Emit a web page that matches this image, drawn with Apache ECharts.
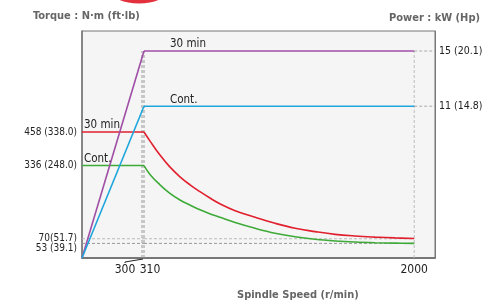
<!DOCTYPE html>
<html><head><meta charset="utf-8">
<script src="https://cdn.jsdelivr.net/npm/echarts@6/dist/echarts.min.js"></script>
<style>html,body{margin:0;padding:0;background:#fff}#c{width:491px;height:304px}</style>
</head><body><div id="c"></div>
<script>
// ---- data ----
const torqueTicks = [458, 336, 70];
const torqueTickLabels = ['458 (338.0)', '336 (248.0)', '70(51.7)'];
const torqueLowTicks = [53];
const torqueLowTickLabels = ['53 (39.1)'];
const powerTicks = [15, 11];
const powerTickLabels = ['15 (20.1)', '11 (14.8)'];
const lowSpeedTicks = [300, 310];
const highSpeedTicks = [2000];
const baseSpeed = 310;
const kneeSpeed = 300;
const maxSpeed = 2000;
const power30 = 15, powerCont = 11;
const torque30 = 458, torqueCont = 336;
const torqueMark30 = 70, torqueMarkCont = 53;
const curveSpeeds = [310, 350, 410, 470, 535, 600, 660, 725, 785, 880, 1005, 1130, 1255, 1380, 1505, 1630, 1755, 1880, 2000];
const torque30Curve = [458, 423, 374, 332, 295, 265, 241, 217, 197, 172, 148, 126, 108, 96, 86, 80, 76, 73, 71];
const torqueContCurve = [336, 302, 266, 236, 211, 192, 175, 160, 148, 129, 108, 90, 77, 68, 62, 58, 55.5, 54, 53];

// ---- chart ----
const FONT = "'Liberation Sans Narrow','DejaVu Sans Condensed',Roboto,sans-serif";
const TMAX = 825, PMAX = 16.45, XBMAX = 2130;
const C_PURPLE = '#a04ea6', C_BLUE = '#1ea6dc', C_RED = '#e1202e', C_GREEN = '#3eaa38';
const chart = echarts.init(document.getElementById('c'), null, {renderer: 'canvas'});

const dash = (color) => ({color: color || '#a8a8a8', width: 1, type: [3, 2]});
const lineS = (x, y, data, color, extra) => Object.assign({
  type: 'line', xAxisIndex: x, yAxisIndex: y, data: data, symbol: 'none',
  lineStyle: {color: color, width: 1.6}, silent: true, animation: false, z: 3
}, extra || {});

const grids = [
  {left: 82, right: 56, top: 31, bottom: 46, show: true, backgroundColor: '#f5f5f5', borderColor: '#777', borderWidth: 1, z: 0},
  {left: 82, width: 62, top: 31, bottom: 46},
  {left: 144, right: 56, top: 31, bottom: 46}
];
const hiddenY = (g, max) => ({type: 'value', gridIndex: g, min: 0, max: max, show: false});
const TT = {fontFamily: FONT, fontSize: 11, fontWeight: 'bold', color: '#666'};
const YL = {margin: 5, color: '#222', fontSize: 10, fontFamily: FONT, hideOverlap: false};

const option = {
  animation: false,
  textStyle: {fontFamily: FONT},
  grid: grids,
  title: [
    {text: 'Torque : N·m (ft·lb)', left: 33, top: 11, padding: 0, textStyle: TT},
    {text: 'Power : kW (Hp)', right: 11, top: 13, padding: 0, textStyle: TT},
    {text: 'Spindle Speed (r/min)', left: 237, top: 290, padding: 0, textStyle: TT}
  ],
  xAxis: [
    {type: 'value', gridIndex: 0, min: 0, max: 1, axisLine: {show: true, lineStyle: {color: '#777', width: 2}}, axisTick: {show: false}, axisLabel: {show: false}, splitLine: {show: false}},
    {type: 'value', gridIndex: 1, min: 0, max: baseSpeed, axisLine: {show: false}, axisTick: {show: false}, splitLine: {show: false},
      axisLabel: {customValues: lowSpeedTicks, margin: 6, color: '#222', fontSize: 12, fontFamily: FONT, hideOverlap: false,
        formatter: v => v === kneeSpeed ? '{a|' + v + '}' : '{b|' + v + '}',
        rich: {a: {padding: [0, 34, 0, 0], fontSize: 12, fontFamily: FONT, color: '#222'}, b: {padding: [0, 0, 0, 12], fontSize: 12, fontFamily: FONT, color: '#222'}}}},
    {type: 'value', gridIndex: 2, min: baseSpeed, max: XBMAX, axisLine: {show: false}, axisTick: {show: false}, splitLine: {show: false},
      axisLabel: {customValues: highSpeedTicks, margin: 6, color: '#222', fontSize: 12, fontFamily: FONT, formatter: v => String(v)}}
  ],
  yAxis: [
    {type: 'value', gridIndex: 0, position: 'left', min: 0, max: TMAX, splitLine: {show: false},
      axisLine: {show: true, lineStyle: {color: '#777', width: 1.5}}, axisTick: {show: false},
      axisLabel: Object.assign({customValues: torqueTicks, formatter: v => torqueTickLabels[torqueTicks.indexOf(v)]}, YL)},
    {type: 'value', gridIndex: 0, position: 'right', min: 0, max: PMAX, splitLine: {show: false},
      axisLine: {show: true, lineStyle: {color: '#777', width: 1}}, axisTick: {show: false},
      axisLabel: {customValues: powerTicks, margin: 4, color: '#222', fontSize: 10.5, fontFamily: FONT,
        formatter: v => powerTickLabels[powerTicks.indexOf(v)]}},
    {type: 'value', gridIndex: 1, position: 'left', min: 0, max: TMAX, splitLine: {show: false},
      axisLine: {show: false}, axisTick: {show: false},
      axisLabel: Object.assign({customValues: torqueLowTicks, verticalAlign: 'top', formatter: v => torqueLowTickLabels[torqueLowTicks.indexOf(v)]}, YL)},
    hiddenY(1, PMAX), hiddenY(2, TMAX), hiddenY(2, PMAX)
  ],
  series: [
    lineS(1, 3, [[kneeSpeed, 0], [kneeSpeed, power30]], null, {lineStyle: dash('#999'), z: 2}),
    lineS(1, 3, [[baseSpeed, 0], [baseSpeed, power30]], null, {lineStyle: dash('#999'), z: 2}),
    lineS(1, 2, [[0, torqueMark30], [baseSpeed, torqueMark30]], null, {lineStyle: dash('#bbb'), z: 2}),
    lineS(1, 2, [[0, torqueMarkCont], [baseSpeed, torqueMarkCont]], null, {lineStyle: dash('#999'), z: 2}),
    lineS(2, 4, [[baseSpeed, torqueMark30], [maxSpeed, torqueMark30]], null, {lineStyle: dash('#bbb'), z: 2}),
    lineS(2, 4, [[baseSpeed, torqueMarkCont], [maxSpeed, torqueMarkCont]], null, {lineStyle: dash('#999'), z: 2}),
    lineS(2, 5, [[maxSpeed, 0], [maxSpeed, power30]], null, {lineStyle: dash('#bbb'), z: 2}),
    lineS(2, 5, [[maxSpeed, power30], [XBMAX, power30]], null, {lineStyle: dash('#aaa'), z: 2}),
    lineS(2, 5, [[maxSpeed, powerCont], [XBMAX, powerCont]], null, {lineStyle: dash('#aaa'), z: 2}),
    lineS(1, 2, [[0, torque30], [baseSpeed, torque30]], C_RED),
    lineS(1, 2, [[0, torqueCont], [baseSpeed, torqueCont]], C_GREEN),
    lineS(2, 4, curveSpeeds.map((s, i) => [s, torque30Curve[i]]), C_RED, {smooth: 0.4}),
    lineS(2, 4, curveSpeeds.map((s, i) => [s, torqueContCurve[i]]), C_GREEN, {smooth: 0.4}),
    lineS(1, 3, [[0, 0], [baseSpeed, power30]], C_PURPLE),
    lineS(1, 3, [[0, 0], [baseSpeed, powerCont]], C_BLUE),
    lineS(2, 5, [[baseSpeed, power30], [maxSpeed, power30]], C_PURPLE),
    lineS(2, 5, [[baseSpeed, powerCont], [maxSpeed, powerCont]], C_BLUE)
  ]
};
chart.setOption(option);

const p = (xi, yi, pt) => chart.convertToPixel({xAxisIndex: xi, yAxisIndex: yi}, pt);
const txt = (pos, s) => ({type: 'text', x: pos[0], y: pos[1], style: {text: s, fill: '#222', font: '11.5px ' + FONT, textVerticalAlign: 'bottom'}, z: 10});
const pP = p(2, 5, [baseSpeed, power30]);
const pB = p(2, 5, [baseSpeed, powerCont]);
const pR = p(1, 2, [0, torque30]);
const pG = p(1, 2, [0, torqueCont]);
const p300 = p(1, 3, [kneeSpeed, 0]);
chart.setOption({
  graphic: [
    {type: 'ellipse', shape: {cx: 139, cy: -8, rx: 27, ry: 11.5}, style: {fill: '#e2303c'}},
    txt([pP[0] + 26, pP[1] - 0.5], '30 min'),
    txt([pB[0] + 26, pB[1] - 0.5], 'Cont.'),
    txt([pR[0] + 2, pR[1] - 0.5], '30 min'),
    txt([pG[0] + 2, pG[1] - 0.5], 'Cont.'),
    {type: 'polyline', shape: {points: [[p300[0] - 17, p300[1] + 5], [p300[0] - 17, p300[1] + 4], [p300[0] + 1, p300[1] + 1]]}, style: {stroke: '#222', lineWidth: 1, fill: null}, z: 10}
  ]
});
</script>
</body></html>
